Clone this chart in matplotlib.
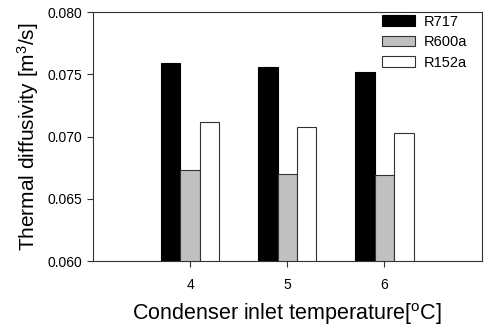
import matplotlib.pyplot as plt
import numpy as np

plt.rcParams['font.family'] = ['Liberation Sans', 'DejaVu Sans']

temps = [4, 5, 6]
r717 = [0.0759, 0.0756, 0.0752]
r600a = [0.0673, 0.0670, 0.0669]
r152a = [0.0712, 0.0708, 0.0703]

fig = plt.figure(figsize=(4.84, 3.26), dpi=100)
ax = fig.add_axes([0.192, 0.199, 0.803, 0.764])

x = np.array(temps, dtype=float)
w = 0.2
ax.bar(x - w, r717, w, color='black', edgecolor='black', linewidth=0.8, label='R717')
ax.bar(x, r600a, w, color='#c0c0c0', edgecolor='#333333', linewidth=0.8, label='R600a')
ax.bar(x + w, r152a, w, color='white', edgecolor='#333333', linewidth=0.8, label='R152a')

ax.set_xlim(3, 7)
ax.set_ylim(0.060, 0.080)
ax.set_xticks(temps)
ax.set_yticks([0.060, 0.065, 0.070, 0.075, 0.080])
ax.set_yticklabels(['0.060', '0.065', '0.070', '0.075', '0.080'])
ax.tick_params(labelsize=10, length=4, width=0.8, color='#333333')
ax.tick_params(axis='x', pad=8)
for s in ax.spines.values():
    s.set_color('#333333')
    s.set_linewidth(0.8)

ax.set_xlabel(r'Condenser inlet temperature[$\mathregular{^oC}$]', fontsize=15.5, labelpad=7)
ax.set_ylabel(r'Thermal diffusivity [m$\mathregular{^3}$/s]', fontsize=15, labelpad=5)

ax.legend(loc='upper right', bbox_to_anchor=(0.962, 0.99), frameon=False, fontsize=10.5,
          handlelength=2.3, handleheight=0.7, handletextpad=0.55,
          labelspacing=0.45, borderpad=0, borderaxespad=0)

fig.savefig('out.png', dpi=100)
